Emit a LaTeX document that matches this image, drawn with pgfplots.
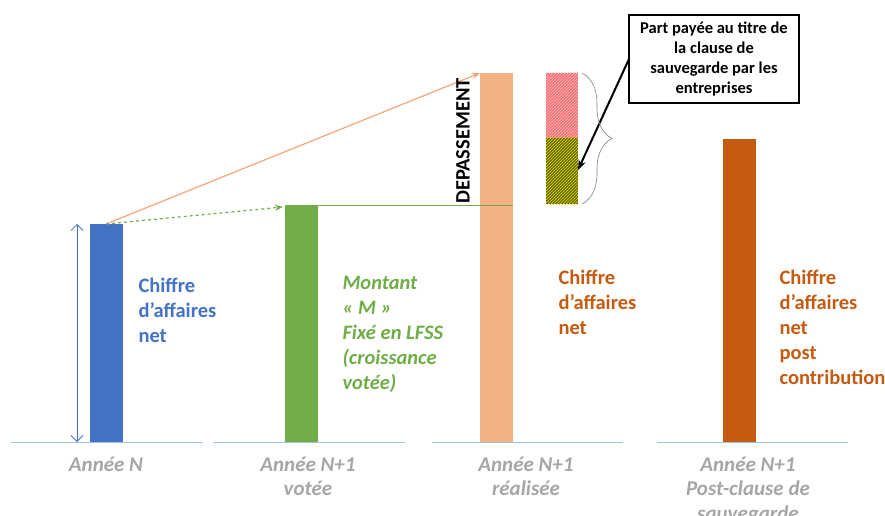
\documentclass[border=0pt]{standalone}
\usepackage{fontspec}
\setmainfont{Carlito}
\usepackage{pgfplots}
\pgfplotsset{compat=1.18}
\usetikzlibrary{arrows.meta,patterns,decorations.pathreplacing}

\definecolor{cblue}{HTML}{4472C4}
\definecolor{cgreen}{HTML}{70AD47}
\definecolor{clight}{HTML}{F4B183}
\definecolor{cdark}{HTML}{C55A11}
\definecolor{cbase}{HTML}{9DC3E6}
\definecolor{cgray}{HTML}{A6A6A6}
\definecolor{cline}{HTML}{F4A67A}
\definecolor{cpink}{HTML}{F36F72}
\definecolor{colive}{HTML}{6B6B00}

\begin{document}
\begin{tikzpicture}
\begin{axis}[name=ax,
  width=885pt,height=515pt,scale only axis,
  xmin=0,xmax=885,ymin=-73,ymax=442,
  hide axis,clip=false,
  every node/.style={font=\bfseries,inner sep=0pt}]
% baselines
\addplot[cbase,line width=1pt] coordinates {(11,0)(203,0)};
\addplot[cbase,line width=1pt] coordinates {(213,0)(405,0)};
\addplot[cbase,line width=1pt] coordinates {(432,0)(623,0)};
\addplot[cbase,line width=1pt] coordinates {(657,0)(848,0)};
% bars
\addplot[ybar,bar width=33,bar shift=0pt,fill=cblue,draw=none] coordinates {(106.5,218)};
\addplot[ybar,bar width=33,bar shift=0pt,fill=cgreen,draw=none] coordinates {(301.5,237)};
\addplot[ybar,bar width=33,bar shift=0pt,fill=clight,draw=none] coordinates {(496.5,369)};
\addplot[ybar,bar width=33,bar shift=0pt,fill=cdark,draw=none] coordinates {(739,303)};
% hatched split of the overrun
\addplot[draw=none,preaction={fill=cpink},pattern=north east lines,pattern color=cpink!45!white] coordinates {(546,304)(578,304)(578,369)(546,369)} -- cycle;
\addplot[draw=none,preaction={fill=colive},pattern=north east lines,pattern color=yellow!70!olive] coordinates {(546,238)(578,238)(578,304)(546,304)} -- cycle;
% arrows and guide lines
\addplot[cline,line width=1.2pt,-{Stealth[length=8pt]}] coordinates {(106,218)(480,369)};
\addplot[cgreen,line width=1.2pt,dashed,-{Stealth[length=8pt,open]}] coordinates {(106,218)(283,235)};
\addplot[cgreen,line width=0.8pt] coordinates {(318,237)(513,237)};
\addplot[cblue,line width=0.8pt,{Straight Barb[length=6pt]}-{Straight Barb[length=6pt]}] coordinates {(77,218)(77,0)};
\addplot[black,line width=2pt,-{Stealth[length=10pt]}] coordinates {(629,383)(578,272)};
\draw[gray,line width=0.6pt,decorate,decoration={brace,amplitude=30pt,aspect=0.5}] (axis cs:582,369) -- (axis cs:582,238);
% texts
\node[rotate=90,font=\bfseries\fontsize{20.5}{22}\selectfont] at (axis cs:463,301) {DEPASSEMENT};
\node[draw=black,line width=1.5pt,minimum width=170pt,minimum height=88pt,align=center,fill=white,
  font=\bfseries\fontsize{16.5}{20}\selectfont] at (axis cs:714,383)
  {Part payée au titre de\\la clause de\\sauvegarde par les\\entreprises};
\node[anchor=north west,align=left,text=cblue,font=\bfseries\fontsize{20.5}{25}\selectfont] at (axis cs:135,167)
  {Chiffre\\d’affaires\\net};
\node[anchor=north west,align=left,text=cgreen,font=\bfseries\itshape\fontsize{20.5}{25}\selectfont] at (axis cs:339,169)
  {Montant\\« M »\\Fixé en LFSS\\(croissance\\votée)};
\node[anchor=north west,align=left,text=cdark,font=\bfseries\fontsize{20.5}{25}\selectfont] at (axis cs:555,175)
  {Chiffre\\d’affaires\\net};
\node[anchor=north west,align=left,text=cdark,font=\bfseries\fontsize{20.5}{25}\selectfont] at (axis cs:776,175)
  {Chiffre\\d’affaires\\net\\post\\contribution};
\node[anchor=north,align=center,text=cgray,font=\bfseries\itshape\fontsize{21}{24.5}\selectfont] at (axis cs:106,-11) {Année N};
\node[anchor=north,align=center,text=cgray,font=\bfseries\itshape\fontsize{21}{24.5}\selectfont] at (axis cs:308,-11) {Année N+1\\votée};
\node[anchor=north,align=center,text=cgray,font=\bfseries\itshape\fontsize{21}{24.5}\selectfont] at (axis cs:526,-11) {Année N+1\\réalisée};
\node[anchor=north,align=center,text=cgray,font=\bfseries\itshape\fontsize{21}{24.5}\selectfont] at (axis cs:748,-11) {Année N+1\\Post-clause de\\sauvegarde};
\end{axis}
\pgfresetboundingbox
\clip (ax.south west) rectangle (ax.north east);
\end{tikzpicture}
\end{document}
